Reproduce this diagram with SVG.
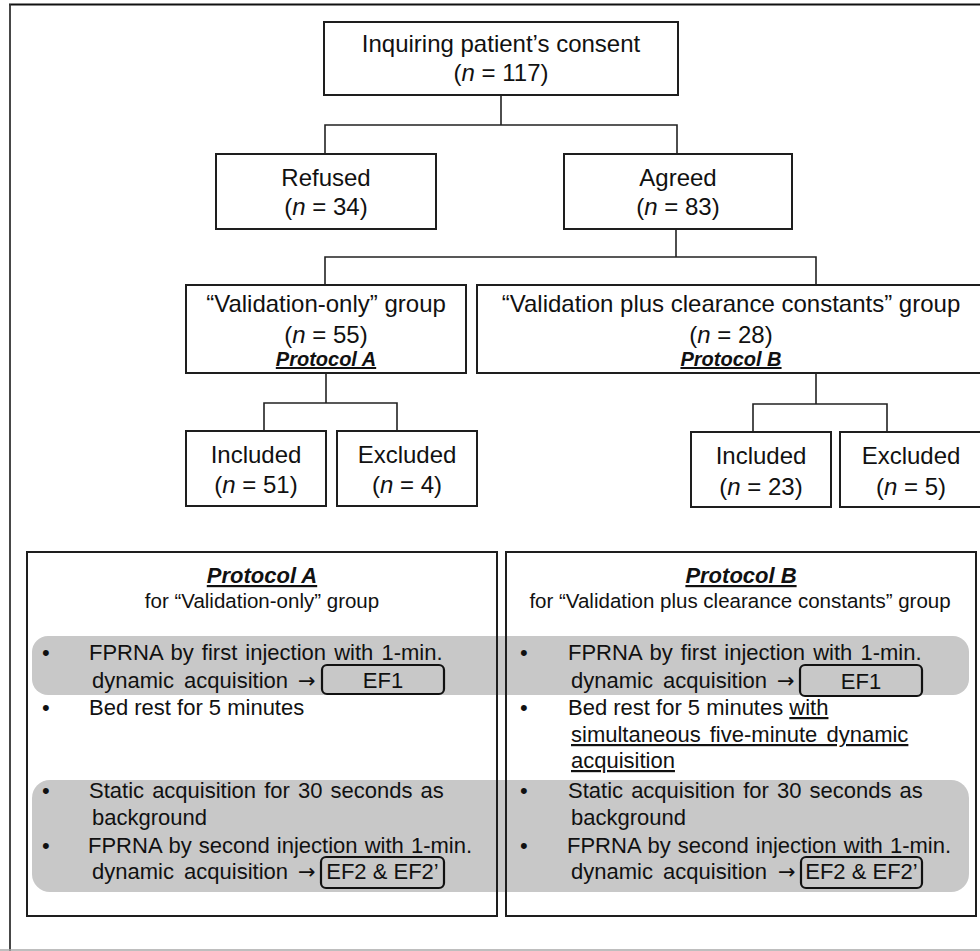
<svg xmlns="http://www.w3.org/2000/svg" width="980" height="951" viewBox="0 0 980 951">
<style>
text{font-family:"Liberation Sans",Arial,Helvetica,sans-serif;fill:#111}
.n{font-size:24px;text-anchor:middle}
.pr{font-size:20px;font-weight:bold;font-style:italic;text-decoration:underline;text-anchor:middle}
.pt{font-size:22px;font-weight:bold;font-style:italic;text-decoration:underline;text-anchor:middle}
.sub{font-size:20.5px;text-anchor:middle}
.b{font-size:22px}
.ar{font-family:"DejaVu Sans",sans-serif;font-size:21px}
.box{fill:none;stroke:#1e1e1e;stroke-width:2}
.eb{fill:none;stroke:#111;stroke-width:2.2}
.band{fill:#c8c8c8}
.c{fill:none;stroke:#222;stroke-width:1.6}
</style>
<rect width="980" height="951" fill="#fff"/>
<g id="frame">
<line x1="9" y1="4.5" x2="980" y2="4.5" stroke="#111" stroke-width="2"/>
<line x1="10" y1="4" x2="10" y2="951" stroke="#333" stroke-width="1.8"/>
<line x1="0" y1="950" x2="980" y2="950" stroke="#a8a8a8" stroke-width="1.5"/>
</g>
<g id="connectors">
<path class="c" d="M501 95V125M325 154V125H677V154"/>
<path class="c" d="M676 229V257M325 285V257H816V285"/>
<path class="c" d="M326 373V403M264 431V403H397V431"/>
<path class="c" d="M816 373V404M753 432V404H887V432"/>
</g>
<g id="n-consent">
<rect class="box" x="324" y="22" width="354" height="73"/>
<text class="n" x="501" y="52">Inquiring patient’s consent</text>
<text class="n" x="501" y="81">(<tspan font-style="italic">n</tspan> = 117)</text>
</g>
<g id="n-refused">
<rect class="box" x="216" y="154" width="220" height="75"/>
<text class="n" x="326" y="186">Refused</text>
<text class="n" x="326" y="215">(<tspan font-style="italic">n</tspan> = 34)</text>
</g>
<g id="n-agreed">
<rect class="box" x="564" y="154" width="228" height="75"/>
<text class="n" x="678" y="186">Agreed</text>
<text class="n" x="678" y="215">(<tspan font-style="italic">n</tspan> = 83)</text>
</g>
<g id="n-valonly">
<rect class="box" x="186" y="285" width="280" height="88"/>
<text class="n" x="326" y="312" font-size="24.5">“Validation-only” group</text>
<text class="n" x="326" y="343">(<tspan font-style="italic">n</tspan> = 55)</text>
<text class="pr" x="326" y="366">Protocol A</text>
</g>
<g id="n-valplus">
<rect class="box" x="477" y="285" width="510" height="88"/>
<text class="n" x="731" y="312" font-size="24.5">“Validation plus clearance constants” group</text>
<text class="n" x="731" y="343">(<tspan font-style="italic">n</tspan> = 28)</text>
<text class="pr" x="731" y="366">Protocol B</text>
</g>
<g id="n-incA">
<rect class="box" x="186" y="431" width="140" height="75"/>
<text class="n" x="256" y="463">Included</text>
<text class="n" x="256" y="493">(<tspan font-style="italic">n</tspan> = 51)</text>
</g>
<g id="n-excA">
<rect class="box" x="337" y="431" width="140" height="75"/>
<text class="n" x="407" y="463">Excluded</text>
<text class="n" x="407" y="493">(<tspan font-style="italic">n</tspan> = 4)</text>
</g>
<g id="n-incB">
<rect class="box" x="691" y="432" width="140" height="75"/>
<text class="n" x="761" y="464">Included</text>
<text class="n" x="761" y="495">(<tspan font-style="italic">n</tspan> = 23)</text>
</g>
<g id="n-excB">
<rect class="box" x="840" y="432" width="146" height="75"/>
<text class="n" x="911" y="464">Excluded</text>
<text class="n" x="911" y="495">(<tspan font-style="italic">n</tspan> = 5)</text>
</g>
<g id="bands">
<rect class="band" x="32" y="636" width="937" height="59" rx="16"/>
<rect class="band" x="32" y="780" width="937" height="112" rx="18"/>
</g>
<g id="protocolA">
<rect class="box" x="27" y="552" width="470" height="364"/>
<text class="pt" x="262" y="583">Protocol A</text>
<text class="sub" x="262" y="608">for “Validation-only” group</text>
<text class="b" x="42" y="660">•</text>
<text class="b" x="89" y="660" word-spacing="2">FPRNA by first injection with 1-min.</text>
<text class="b" x="92" y="688" word-spacing="4">dynamic acquisition <tspan class="ar" x="298">→</tspan></text>
<rect class="eb" x="322" y="665" width="122" height="29" rx="5"/>
<text class="b" x="383" y="688" text-anchor="middle">EF1</text>
<text class="b" x="42" y="715">•</text>
<text class="b" x="89" y="715">Bed rest for 5 minutes</text>
<text class="b" x="42" y="798">•</text>
<text class="b" x="89" y="798" word-spacing="2">Static acquisition for 30 seconds as</text>
<text class="b" x="92" y="825">background</text>
<text class="b" x="42" y="853">•</text>
<text class="b" x="88" y="853" word-spacing="1">FPRNA by second injection with 1-min.</text>
<text class="b" x="92" y="879" word-spacing="4">dynamic acquisition <tspan class="ar" x="298">→</tspan></text>
<rect class="eb" x="321" y="857" width="123" height="31" rx="5"/>
<text class="b" x="382.5" y="879" text-anchor="middle">EF2 &amp; EF2’</text>
</g>
<g id="protocolB">
<rect class="box" x="506" y="552" width="470" height="364"/>
<text class="pt" x="741" y="583">Protocol B</text>
<text class="sub" x="740" y="608">for “Validation plus clearance constants” group</text>
<text class="b" x="520" y="660">•</text>
<text class="b" x="568" y="660" word-spacing="2">FPRNA by first injection with 1-min.</text>
<text class="b" x="571" y="688" word-spacing="4">dynamic acquisition <tspan class="ar" x="777">→</tspan></text>
<rect class="eb" x="800" y="665" width="122" height="31" rx="5"/>
<text class="b" x="861" y="689" text-anchor="middle">EF1</text>
<text class="b" x="520" y="715">•</text>
<text class="b" x="568" y="715">Bed rest for 5 minutes <tspan text-decoration="underline">with</tspan></text>
<text class="b" x="571" y="742" text-decoration="underline" word-spacing="3">simultaneous five-minute dynamic</text>
<text class="b" x="571" y="768" text-decoration="underline">acquisition</text>
<text class="b" x="520" y="798">•</text>
<text class="b" x="568" y="798" word-spacing="2">Static acquisition for 30 seconds as</text>
<text class="b" x="571" y="825">background</text>
<text class="b" x="520" y="853">•</text>
<text class="b" x="567" y="853" word-spacing="1">FPRNA by second injection with 1-min.</text>
<text class="b" x="571" y="879" word-spacing="4">dynamic acquisition <tspan class="ar" x="778">→</tspan></text>
<rect class="eb" x="801" y="857" width="121" height="31" rx="5"/>
<text class="b" x="861.5" y="879" text-anchor="middle">EF2 &amp; EF2’</text>
</g>
</svg>
